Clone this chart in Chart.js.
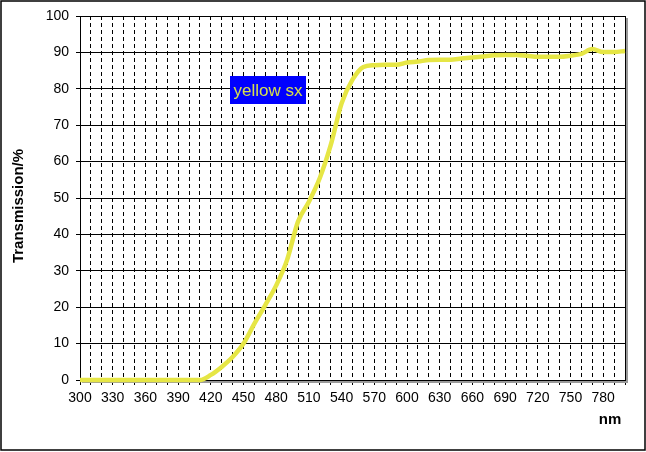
<!DOCTYPE html>
<html>
<head>
<meta charset="utf-8">
<script src="https://cdn.jsdelivr.net/npm/chart.js@4/dist/chart.umd.min.js"></script>
<style>
  html, body { margin: 0; padding: 0; background: #fff; }
  #wrap { width: 646px; height: 452px; position: relative; }
</style>
</head>
<body>
<div id="wrap"><canvas id="c"></canvas></div>
<script>
// ---- data ----
const wavelengths = [300,310,320,330,340,350,360,370,380,390,400,410,420,430,440,450,460,470,480,490,500,510,520,530,540,550,560,570,580,590,600,610,620,630,640,650,660,670,680,690,700,710,720,730,740,750,760,770,780,790,800];
const transmission = [0,0,0,0,0,0,0,0,0,0,0,0,1.4,3.6,6.3,10,15.5,20.6,26,33,43.5,49,55.5,64.5,76,82.5,86,86.5,86.6,86.6,87.2,87.5,87.9,88,88,88.3,88.6,88.9,89.2,89.3,89.3,89.1,88.8,88.8,88.8,89.1,89.6,90.9,90.1,90.1,90.4];
const seriesLabel = 'yellow sx';
const xTitle = 'nm';
const yTitle = 'Transmission/%';
const xMin = 300, xMax = 800, xLabelStep = 30, xGridStep = 10;
const yMin = 0, yMax = 100, yStep = 10;

const FONT = '"Liberation Sans", Arial, sans-serif';

const decor = {
  id: 'decor',
  beforeDatasetsDraw(chart) {
    const {ctx, chartArea: a} = chart;
    ctx.save();
    // gray shadow
    ctx.fillStyle = '#9a9a9a';
    ctx.fillRect(a.right + 1, a.top + 2, 2, a.bottom - a.top + 1);
    ctx.fillRect(a.left + 2, a.bottom + 1, a.right - a.left + 1, 2);
    // frame
    ctx.strokeStyle = '#000';
    ctx.lineWidth = 1;
    ctx.strokeRect(a.left + 0.5, a.top + 0.5, a.right - a.left, a.bottom - a.top);
    ctx.restore();
  },
  afterDraw(chart) {
    const {ctx} = chart;
    ctx.save();
    // outer border
    ctx.strokeStyle = '#000';
    ctx.lineWidth = 1.5;
    ctx.strokeRect(1, 1, 644, 449);
    // series label box
    ctx.fillStyle = '#0000ff';
    ctx.fillRect(230, 76, 76, 28);
    ctx.fillStyle = '#d6e04c';
    ctx.font = '17px ' + FONT;
    ctx.textAlign = 'center';
    ctx.textBaseline = 'middle';
    ctx.fillText(seriesLabel, 268, 91);
    // axis titles
    ctx.fillStyle = '#000';
    ctx.font = 'bold 15px ' + FONT;
    ctx.fillText(xTitle, 610, 420);
    ctx.translate(19, 206);
    ctx.rotate(-Math.PI / 2);
    ctx.fillText(yTitle, 0, 0);
    ctx.restore();
  }
};

new Chart(document.getElementById('c'), {
  type: 'line',
  data: {
    datasets: [{
      label: seriesLabel,
      data: wavelengths.map((w, i) => ({x: w, y: transmission[i]})),
      borderColor: '#e6e645',
      borderWidth: 4.5,
      pointRadius: 0,
      cubicInterpolationMode: 'monotone',
      fill: false,
      clip: false
    }]
  },
  options: {
    responsive: true,
    maintainAspectRatio: false,
    animation: false,
    layout: { padding: { top: 16, right: 21, left: 0, bottom: 0 } },
    plugins: { legend: { display: false }, tooltip: { enabled: false } },
    scales: {
      x: {
        type: 'linear',
        min: xMin, max: xMax,
        afterFit(s) { s.height = 72; },
        ticks: {
          stepSize: xGridStep,
          autoSkip: false,
          maxRotation: 0,
          color: '#000',
          padding: 5,
          font: { family: FONT, size: 14 },
          callback: v => ((v - xMin) % xLabelStep === 0 ? String(v) : '')
        },
        grid: { color: '#000', lineWidth: 1, drawTicks: true, tickLength: 5, tickColor: '#000' },
        border: { display: false, dash: [4, 3] }
      },
      y: {
        min: yMin, max: yMax,
        afterFit(s) { s.width = 80; },
        ticks: {
          stepSize: yStep,
          color: '#000',
          padding: 7,
          font: { family: FONT, size: 14 }
        },
        grid: { color: '#000', lineWidth: 1, drawTicks: true, tickLength: 4, tickColor: '#000' },
        border: { display: false }
      }
    }
  },
  plugins: [decor]
});
</script>
</body>
</html>
